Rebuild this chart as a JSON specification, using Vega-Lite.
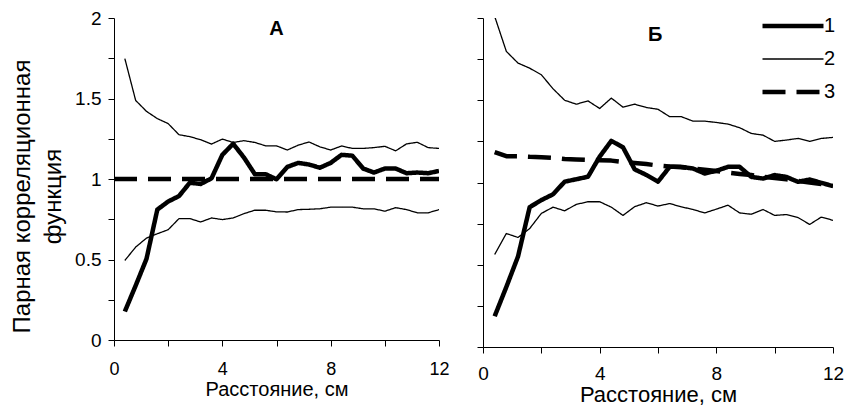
{
  "$schema": "https://vega.github.io/schema/vega-lite/v6.json",
  "padding": {"left": 10, "top": 9, "right": 0, "bottom": 0},
  "background": "white",
  "config": {
    "view": {"stroke": null},
    "font": "Liberation Sans",
    "axis": {
      "grid": false, "domainColor": "black", "tickColor": "black", "labelColor": "black", "titleColor": "black",
      "labelFont": "Liberation Sans", "titleFont": "Liberation Sans", "titleFontWeight": "normal",
      "domainWidth": 1, "tickWidth": 1, "tickSize": 6, "labelFlush": false, "labelOverlap": false
    },
    "line": {"color": "black", "strokeJoin": "round"}
  },
  "data": {"values": [
    {"panel":"A","series":"1","part":"1","x":0.4,"y":0.177},{"panel":"A","series":"1","part":"1","x":0.8,"y":0.338},{"panel":"A","series":"1","part":"1","x":1.2,"y":0.504},{"panel":"A","series":"1","part":"1","x":1.6,"y":0.81},{"panel":"A","series":"1","part":"1","x":2.0,"y":0.86},{"panel":"A","series":"1","part":"1","x":2.4,"y":0.894},{"panel":"A","series":"1","part":"1","x":2.8,"y":0.977},{"panel":"A","series":"1","part":"1","x":3.2,"y":0.969},{"panel":"A","series":"1","part":"1","x":3.6,"y":1.004},{"panel":"A","series":"1","part":"1","x":4.0,"y":1.15},{"panel":"A","series":"1","part":"1","x":4.4,"y":1.219},{"panel":"A","series":"1","part":"1","x":4.8,"y":1.133},{"panel":"A","series":"1","part":"1","x":5.2,"y":1.03},{"panel":"A","series":"1","part":"1","x":5.6,"y":1.03},{"panel":"A","series":"1","part":"1","x":6.0,"y":0.998},{"panel":"A","series":"1","part":"1","x":6.4,"y":1.075},{"panel":"A","series":"1","part":"1","x":6.8,"y":1.1},{"panel":"A","series":"1","part":"1","x":7.2,"y":1.09},{"panel":"A","series":"1","part":"1","x":7.6,"y":1.07},{"panel":"A","series":"1","part":"1","x":8.0,"y":1.1},{"panel":"A","series":"1","part":"1","x":8.4,"y":1.15},{"panel":"A","series":"1","part":"1","x":8.8,"y":1.145},{"panel":"A","series":"1","part":"1","x":9.2,"y":1.065},{"panel":"A","series":"1","part":"1","x":9.6,"y":1.04},{"panel":"A","series":"1","part":"1","x":10.0,"y":1.065},{"panel":"A","series":"1","part":"1","x":10.4,"y":1.065},{"panel":"A","series":"1","part":"1","x":10.8,"y":1.036},{"panel":"A","series":"1","part":"1","x":11.2,"y":1.04},{"panel":"A","series":"1","part":"1","x":11.6,"y":1.036},{"panel":"A","series":"1","part":"1","x":12.0,"y":1.05},
    {"panel":"A","series":"2","part":"2u","x":0.4,"y":1.748},{"panel":"A","series":"2","part":"2u","x":0.8,"y":1.488},{"panel":"A","series":"2","part":"2u","x":1.2,"y":1.42},{"panel":"A","series":"2","part":"2u","x":1.6,"y":1.375},{"panel":"A","series":"2","part":"2u","x":2.0,"y":1.344},{"panel":"A","series":"2","part":"2u","x":2.4,"y":1.275},{"panel":"A","series":"2","part":"2u","x":2.8,"y":1.263},{"panel":"A","series":"2","part":"2u","x":3.2,"y":1.244},{"panel":"A","series":"2","part":"2u","x":3.6,"y":1.217},{"panel":"A","series":"2","part":"2u","x":4.0,"y":1.248},{"panel":"A","series":"2","part":"2u","x":4.4,"y":1.227},{"panel":"A","series":"2","part":"2u","x":4.8,"y":1.238},{"panel":"A","series":"2","part":"2u","x":5.2,"y":1.227},{"panel":"A","series":"2","part":"2u","x":5.6,"y":1.206},{"panel":"A","series":"2","part":"2u","x":6.0,"y":1.206},{"panel":"A","series":"2","part":"2u","x":6.4,"y":1.18},{"panel":"A","series":"2","part":"2u","x":6.8,"y":1.21},{"panel":"A","series":"2","part":"2u","x":7.2,"y":1.23},{"panel":"A","series":"2","part":"2u","x":7.6,"y":1.2},{"panel":"A","series":"2","part":"2u","x":8.0,"y":1.18},{"panel":"A","series":"2","part":"2u","x":8.4,"y":1.205},{"panel":"A","series":"2","part":"2u","x":8.8,"y":1.19},{"panel":"A","series":"2","part":"2u","x":9.2,"y":1.19},{"panel":"A","series":"2","part":"2u","x":9.6,"y":1.195},{"panel":"A","series":"2","part":"2u","x":10.0,"y":1.203},{"panel":"A","series":"2","part":"2u","x":10.4,"y":1.175},{"panel":"A","series":"2","part":"2u","x":10.8,"y":1.218},{"panel":"A","series":"2","part":"2u","x":11.2,"y":1.228},{"panel":"A","series":"2","part":"2u","x":11.6,"y":1.195},{"panel":"A","series":"2","part":"2u","x":12.0,"y":1.19},
    {"panel":"A","series":"2","part":"2l","x":0.4,"y":0.494},{"panel":"A","series":"2","part":"2l","x":0.8,"y":0.577},{"panel":"A","series":"2","part":"2l","x":1.2,"y":0.633},{"panel":"A","series":"2","part":"2l","x":1.6,"y":0.66},{"panel":"A","series":"2","part":"2l","x":2.0,"y":0.685},{"panel":"A","series":"2","part":"2l","x":2.4,"y":0.754},{"panel":"A","series":"2","part":"2l","x":2.8,"y":0.754},{"panel":"A","series":"2","part":"2l","x":3.2,"y":0.733},{"panel":"A","series":"2","part":"2l","x":3.6,"y":0.758},{"panel":"A","series":"2","part":"2l","x":4.0,"y":0.748},{"panel":"A","series":"2","part":"2l","x":4.4,"y":0.758},{"panel":"A","series":"2","part":"2l","x":4.8,"y":0.785},{"panel":"A","series":"2","part":"2l","x":5.2,"y":0.806},{"panel":"A","series":"2","part":"2l","x":5.6,"y":0.806},{"panel":"A","series":"2","part":"2l","x":6.0,"y":0.796},{"panel":"A","series":"2","part":"2l","x":6.4,"y":0.795},{"panel":"A","series":"2","part":"2l","x":6.8,"y":0.81},{"panel":"A","series":"2","part":"2l","x":7.2,"y":0.812},{"panel":"A","series":"2","part":"2l","x":7.6,"y":0.815},{"panel":"A","series":"2","part":"2l","x":8.0,"y":0.825},{"panel":"A","series":"2","part":"2l","x":8.4,"y":0.825},{"panel":"A","series":"2","part":"2l","x":8.8,"y":0.825},{"panel":"A","series":"2","part":"2l","x":9.2,"y":0.815},{"panel":"A","series":"2","part":"2l","x":9.6,"y":0.815},{"panel":"A","series":"2","part":"2l","x":10.0,"y":0.8},{"panel":"A","series":"2","part":"2l","x":10.4,"y":0.822},{"panel":"A","series":"2","part":"2l","x":10.8,"y":0.81},{"panel":"A","series":"2","part":"2l","x":11.2,"y":0.79},{"panel":"A","series":"2","part":"2l","x":11.6,"y":0.79},{"panel":"A","series":"2","part":"2l","x":12.0,"y":0.81},
    {"panel":"A","series":"3","part":"3","x":0,"y":1},{"panel":"A","series":"3","part":"3","x":12,"y":1},
    {"panel":"B","series":"1","part":"1","x":0.4,"y":0.187},{"panel":"B","series":"1","part":"1","x":0.8,"y":0.365},{"panel":"B","series":"1","part":"1","x":1.2,"y":0.55},{"panel":"B","series":"1","part":"1","x":1.6,"y":0.85},{"panel":"B","series":"1","part":"1","x":2.0,"y":0.893},{"panel":"B","series":"1","part":"1","x":2.4,"y":0.928},{"panel":"B","series":"1","part":"1","x":2.8,"y":1.005},{"panel":"B","series":"1","part":"1","x":3.2,"y":1.02},{"panel":"B","series":"1","part":"1","x":3.6,"y":1.035},{"panel":"B","series":"1","part":"1","x":4.0,"y":1.157},{"panel":"B","series":"1","part":"1","x":4.4,"y":1.253},{"panel":"B","series":"1","part":"1","x":4.8,"y":1.214},{"panel":"B","series":"1","part":"1","x":5.2,"y":1.08},{"panel":"B","series":"1","part":"1","x":5.6,"y":1.046},{"panel":"B","series":"1","part":"1","x":6.0,"y":1.005},{"panel":"B","series":"1","part":"1","x":6.4,"y":1.095},{"panel":"B","series":"1","part":"1","x":6.8,"y":1.095},{"panel":"B","series":"1","part":"1","x":7.2,"y":1.085},{"panel":"B","series":"1","part":"1","x":7.6,"y":1.055},{"panel":"B","series":"1","part":"1","x":8.0,"y":1.071},{"panel":"B","series":"1","part":"1","x":8.4,"y":1.095},{"panel":"B","series":"1","part":"1","x":8.8,"y":1.095},{"panel":"B","series":"1","part":"1","x":9.2,"y":1.034},{"panel":"B","series":"1","part":"1","x":9.6,"y":1.024},{"panel":"B","series":"1","part":"1","x":10.0,"y":1.045},{"panel":"B","series":"1","part":"1","x":10.4,"y":1.034},{"panel":"B","series":"1","part":"1","x":10.8,"y":1.004},{"panel":"B","series":"1","part":"1","x":11.2,"y":1.018},{"panel":"B","series":"1","part":"1","x":11.6,"y":0.998},{"panel":"B","series":"1","part":"1","x":12.0,"y":0.978},
    {"panel":"B","series":"2","part":"2u","x":0.4,"y":2.01},{"panel":"B","series":"2","part":"2u","x":0.8,"y":1.797},{"panel":"B","series":"2","part":"2u","x":1.2,"y":1.726},{"panel":"B","series":"2","part":"2u","x":1.6,"y":1.695},{"panel":"B","series":"2","part":"2u","x":2.0,"y":1.655},{"panel":"B","series":"2","part":"2u","x":2.4,"y":1.57},{"panel":"B","series":"2","part":"2u","x":2.8,"y":1.5},{"panel":"B","series":"2","part":"2u","x":3.2,"y":1.476},{"panel":"B","series":"2","part":"2u","x":3.6,"y":1.496},{"panel":"B","series":"2","part":"2u","x":4.0,"y":1.45},{"panel":"B","series":"2","part":"2u","x":4.4,"y":1.513},{"panel":"B","series":"2","part":"2u","x":4.8,"y":1.458},{"panel":"B","series":"2","part":"2u","x":5.2,"y":1.476},{"panel":"B","series":"2","part":"2u","x":5.6,"y":1.456},{"panel":"B","series":"2","part":"2u","x":6.0,"y":1.445},{"panel":"B","series":"2","part":"2u","x":6.4,"y":1.4},{"panel":"B","series":"2","part":"2u","x":6.8,"y":1.4},{"panel":"B","series":"2","part":"2u","x":7.2,"y":1.373},{"panel":"B","series":"2","part":"2u","x":7.6,"y":1.373},{"panel":"B","series":"2","part":"2u","x":8.0,"y":1.365},{"panel":"B","series":"2","part":"2u","x":8.4,"y":1.355},{"panel":"B","series":"2","part":"2u","x":8.8,"y":1.333},{"panel":"B","series":"2","part":"2u","x":9.2,"y":1.298},{"panel":"B","series":"2","part":"2u","x":9.6,"y":1.288},{"panel":"B","series":"2","part":"2u","x":10.0,"y":1.25},{"panel":"B","series":"2","part":"2u","x":10.4,"y":1.258},{"panel":"B","series":"2","part":"2u","x":10.8,"y":1.268},{"panel":"B","series":"2","part":"2u","x":11.2,"y":1.25},{"panel":"B","series":"2","part":"2u","x":11.6,"y":1.268},{"panel":"B","series":"2","part":"2u","x":12.0,"y":1.274},
    {"panel":"B","series":"2","part":"2l","x":0.4,"y":0.562},{"panel":"B","series":"2","part":"2l","x":0.8,"y":0.69},{"panel":"B","series":"2","part":"2l","x":1.2,"y":0.666},{"panel":"B","series":"2","part":"2l","x":1.6,"y":0.72},{"panel":"B","series":"2","part":"2l","x":2.0,"y":0.812},{"panel":"B","series":"2","part":"2l","x":2.4,"y":0.85},{"panel":"B","series":"2","part":"2l","x":2.8,"y":0.828},{"panel":"B","series":"2","part":"2l","x":3.2,"y":0.867},{"panel":"B","series":"2","part":"2l","x":3.6,"y":0.883},{"panel":"B","series":"2","part":"2l","x":4.0,"y":0.883},{"panel":"B","series":"2","part":"2l","x":4.4,"y":0.85},{"panel":"B","series":"2","part":"2l","x":4.8,"y":0.8},{"panel":"B","series":"2","part":"2l","x":5.2,"y":0.853},{"panel":"B","series":"2","part":"2l","x":5.6,"y":0.877},{"panel":"B","series":"2","part":"2l","x":6.0,"y":0.857},{"panel":"B","series":"2","part":"2l","x":6.4,"y":0.872},{"panel":"B","series":"2","part":"2l","x":6.8,"y":0.852},{"panel":"B","series":"2","part":"2l","x":7.2,"y":0.836},{"panel":"B","series":"2","part":"2l","x":7.6,"y":0.815},{"panel":"B","series":"2","part":"2l","x":8.0,"y":0.838},{"panel":"B","series":"2","part":"2l","x":8.4,"y":0.862},{"panel":"B","series":"2","part":"2l","x":8.8,"y":0.815},{"panel":"B","series":"2","part":"2l","x":9.2,"y":0.807},{"panel":"B","series":"2","part":"2l","x":9.6,"y":0.836},{"panel":"B","series":"2","part":"2l","x":10.0,"y":0.8},{"panel":"B","series":"2","part":"2l","x":10.4,"y":0.805},{"panel":"B","series":"2","part":"2l","x":10.8,"y":0.787},{"panel":"B","series":"2","part":"2l","x":11.2,"y":0.745},{"panel":"B","series":"2","part":"2l","x":11.6,"y":0.79},{"panel":"B","series":"2","part":"2l","x":12.0,"y":0.77},
    {"panel":"B","series":"3","part":"3","x":0.4,"y":1.185},{"panel":"B","series":"3","part":"3","x":0.8,"y":1.16},{"panel":"B","series":"3","part":"3","x":1.2,"y":1.16},{"panel":"B","series":"3","part":"3","x":1.6,"y":1.156},{"panel":"B","series":"3","part":"3","x":2.0,"y":1.154},{"panel":"B","series":"3","part":"3","x":2.4,"y":1.15},{"panel":"B","series":"3","part":"3","x":2.8,"y":1.143},{"panel":"B","series":"3","part":"3","x":3.2,"y":1.14},{"panel":"B","series":"3","part":"3","x":3.6,"y":1.138},{"panel":"B","series":"3","part":"3","x":4.0,"y":1.136},{"panel":"B","series":"3","part":"3","x":4.4,"y":1.133},{"panel":"B","series":"3","part":"3","x":4.8,"y":1.125},{"panel":"B","series":"3","part":"3","x":5.2,"y":1.118},{"panel":"B","series":"3","part":"3","x":5.6,"y":1.112},{"panel":"B","series":"3","part":"3","x":6.0,"y":1.103},{"panel":"B","series":"3","part":"3","x":6.4,"y":1.097},{"panel":"B","series":"3","part":"3","x":6.8,"y":1.093},{"panel":"B","series":"3","part":"3","x":7.2,"y":1.085},{"panel":"B","series":"3","part":"3","x":7.6,"y":1.077},{"panel":"B","series":"3","part":"3","x":8.0,"y":1.07},{"panel":"B","series":"3","part":"3","x":8.4,"y":1.06},{"panel":"B","series":"3","part":"3","x":8.8,"y":1.052},{"panel":"B","series":"3","part":"3","x":9.2,"y":1.045},{"panel":"B","series":"3","part":"3","x":9.6,"y":1.035},{"panel":"B","series":"3","part":"3","x":10.0,"y":1.028},{"panel":"B","series":"3","part":"3","x":10.4,"y":1.02},{"panel":"B","series":"3","part":"3","x":10.8,"y":1.01},{"panel":"B","series":"3","part":"3","x":11.2,"y":1.0},{"panel":"B","series":"3","part":"3","x":11.6,"y":0.99},{"panel":"B","series":"3","part":"3","x":12.0,"y":0.98}
  ]},
  "hconcat": [
    {
      "width": 325, "height": 322,
      "layer": [
        {
          "transform": [{"filter": "datum.panel === 'A'"}],
          "mark": {"type": "line", "clip": true},
          "encoding": {
            "x": {"field": "x", "type": "quantitative", "scale": {"domain": [0, 12], "nice": false},
              "axis": {"title": "Расстояние, см", "values": [0, 2, 4, 6, 8, 10, 12], "labelExpr": "datum.value % 4 === 0 ? datum.label : ''", "labelFontSize": 18, "titleFontSize": 20, "labelPadding": 14, "titlePadding": 1}},
            "y": {"field": "y", "type": "quantitative", "scale": {"domain": [0, 2], "nice": false},
              "axis": {"title": ["Парная корреляционная", "функция"], "values": [0, 0.25, 0.5, 0.75, 1, 1.25, 1.5, 1.75, 2], "format": "~g", "labelExpr": "datum.value % 0.5 === 0 ? datum.label : ''", "labelFontSize": 19, "titleFontSize": 24, "titleLineHeight": 31, "labelPadding": 7, "titlePadding": 9, "titleY": 178}},
            "detail": {"field": "part"},
            "strokeWidth": {"field": "series", "type": "ordinal", "scale": {"type": "ordinal", "domain": ["1", "2", "3"], "range": [4.5, 1.3, 4.5]}, "legend": null},
            "strokeDash": {"field": "series", "type": "ordinal", "scale": {"type": "ordinal", "domain": ["1", "2", "3"], "range": [[1, 0], [1, 0], [23, 11]]}, "legend": null}
          }
        },
        {
          "data": {"values": [{"label": "А"}]},
          "mark": {"type": "text", "fontSize": 20, "fontWeight": "bold", "font": "Liberation Sans", "baseline": "alphabetic", "align": "center", "color": "black"},
          "encoding": {
            "x": {"datum": 6, "type": "quantitative"},
            "y": {"datum": 1.894, "type": "quantitative"},
            "text": {"field": "label"}
          }
        }
      ]
    },
    {
      "width": 350, "height": 329,
      "layer": [
        {
          "transform": [{"filter": "datum.panel === 'B'"}],
          "mark": {"type": "line", "clip": true},
          "encoding": {
            "x": {"field": "x", "type": "quantitative", "scale": {"domain": [0, 12], "nice": false},
              "axis": {"title": "Расстояние, см", "values": [0, 2, 4, 6, 8, 10, 12], "labelExpr": "datum.value % 4 === 0 ? datum.label : ''", "labelFontSize": 19, "titleFontSize": 22, "labelPadding": 11, "titlePadding": 1}},
            "y": {"field": "y", "type": "quantitative", "scale": {"domain": [0, 2], "nice": false},
              "axis": {"title": null, "values": [0, 0.25, 0.5, 0.75, 1, 1.25, 1.5, 1.75, 2], "labels": false}},
            "detail": {"field": "part"},
            "strokeWidth": {"field": "series", "type": "ordinal", "scale": {"type": "ordinal", "domain": ["1", "2", "3"], "range": [4.5, 1.3, 4.5]},
              "legend": {"orient": "none", "legendX": 277, "legendY": -2, "title": null, "symbolType": "stroke", "symbolSize": 3721, "clipHeight": 20, "rowPadding": 13, "labelFontSize": 20, "labelOffset": -2, "padding": 0, "symbolStrokeColor": "black", "labelColor": "black", "labelFont": "Liberation Sans"}},
            "strokeDash": {"field": "series", "type": "ordinal", "scale": {"type": "ordinal", "domain": ["1", "2", "3"], "range": [[1, 0], [1, 0], [23, 11]]},
              "legend": {"orient": "none", "legendX": 277, "legendY": -2, "title": null, "symbolType": "stroke", "symbolSize": 3721, "clipHeight": 20, "rowPadding": 13, "labelFontSize": 20, "labelOffset": -2, "padding": 0, "symbolStrokeColor": "black", "labelColor": "black", "labelFont": "Liberation Sans"}}
          }
        },
        {
          "data": {"values": [{"label": "Б"}]},
          "mark": {"type": "text", "fontSize": 20, "fontWeight": "bold", "font": "Liberation Sans", "baseline": "alphabetic", "align": "center", "color": "black"},
          "encoding": {
            "x": {"datum": 5.9, "type": "quantitative"},
            "y": {"datum": 1.86, "type": "quantitative"},
            "text": {"field": "label"}
          }
        }
      ]
    }
  ],
  "spacing": 44,
  "bounds": "flush",
  "resolve": {
    "scale": {"strokeWidth": "independent", "strokeDash": "independent"},
    "legend": {"strokeWidth": "independent", "strokeDash": "independent"}
  }
}
